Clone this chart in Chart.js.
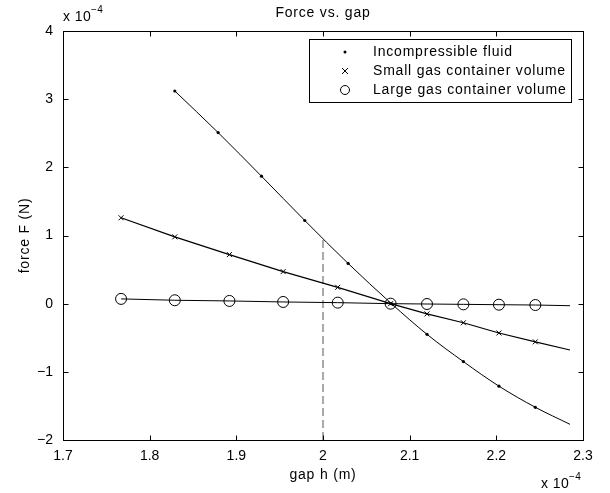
<!DOCTYPE html>
<html>
<head>
<meta charset="utf-8">
<title>Force vs. gap</title>
<script src="https://cdn.jsdelivr.net/npm/chart.js@4.4.1/dist/chart.umd.min.js"></script>
<style>
	html, body { margin: 0; padding: 0; background: #fff; }
	#wrap { width: 610px; height: 493px; }
</style>
</head>
<body>
<div id="wrap"><canvas id="forceChart" width="610" height="493"></canvas></div>
<script>
// gap h in units of 1e-4 m, force F in units of 1e-4 N
const fluidGap = [1.829, 1.879, 1.929, 1.979, 2.029, 2.079, 2.120, 2.162, 2.203, 2.245];
const fluidForce = [3.12, 2.51, 1.87, 1.22, 0.59, 0.00, -0.45, -0.85, -1.21, -1.52];
const gasGap = [1.767, 1.829, 1.892, 1.954, 2.017, 2.078, 2.120, 2.162, 2.203, 2.245];
const smallGasForce = [1.26, 0.98, 0.72, 0.47, 0.24, 0.00, -0.15, -0.28, -0.43, -0.56];
const largeGasForce = [0.07, 0.05, 0.04, 0.025, 0.015, 0.00, -0.005, -0.01, -0.015, -0.02];

// fitted lines run on to the end of the gap range (no marker there)
const lineEndGap = 2.285;
const fluidEndForce = -1.77;
const smallEndForce = -0.68;
const largeEndForce = -0.03;

// dashed marker at h = 2e-4
const markGap = [2.0, 2.0];
const markForce = [-2, 0.96];

const seriesLabels = ['Incompressible fluid', 'Small gas container volume', 'Large gas container volume'];
const xTicks = [1.7, 1.8, 1.9, 2.0, 2.1, 2.2, 2.3];
const yTicks = [-2, -1, 0, 1, 2, 3, 4];

const FONT = '"Liberation Sans", Arial, Helvetica, sans-serif';

document.addEventListener('DOMContentLoaded', function() {
	initForceChart();
});

/**
 * marker points + the line end point
 */
function withEnd(xs, ys, endY) {
	const pts = xs.map(function(x, i) { return { x: x, y: ys[i] }; });
	pts.push({ x: lineEndGap, y: endY });
	return pts;
}

function radii(xs, r) {
	return xs.map(function() { return r; }).concat([0]);
}

function tickText(v) {
	const r = Math.round(v * 10) / 10;
	return (r < 0 ? '\u2212' : '') + Math.abs(r);
}

/**
 * frame, inward ticks, title, axis labels, exponent, legend (MATLAB look)
 */
const matlabDecor = {
	id: 'matlabDecor',
	afterDraw: function(chart) {
		const ctx = chart.ctx;
		const a = chart.chartArea;
		const xs = chart.scales.x;
		const ys = chart.scales.y;
		const L = Math.round(a.left) + 0.5, R = Math.round(a.right) + 0.5;
		const T = Math.round(a.top) + 0.5, B = Math.round(a.bottom) + 0.5;
		const tl = 5;

		ctx.save();
		ctx.strokeStyle = '#000';
		ctx.lineWidth = 1;
		ctx.beginPath();
		xs.ticks.forEach(function(t) {
			const px = Math.round(xs.getPixelForValue(t.value)) + 0.5;
			ctx.moveTo(px, B); ctx.lineTo(px, B - tl);
			ctx.moveTo(px, T); ctx.lineTo(px, T + tl);
		});
		ys.ticks.forEach(function(t) {
			const py = Math.round(ys.getPixelForValue(t.value)) + 0.5;
			ctx.moveTo(L, py); ctx.lineTo(L + tl, py);
			ctx.moveTo(R, py); ctx.lineTo(R - tl, py);
		});
		ctx.stroke();
		ctx.strokeRect(L, T, R - L, B - T);

		ctx.fillStyle = '#000';
		ctx.letterSpacing = '0.8px';
		ctx.textBaseline = 'middle';

		// title
		ctx.font = '14px ' + FONT;
		ctx.textAlign = 'center';
		ctx.fillText('Force vs. gap', (a.left + a.right) / 2, 13);

		// axis labels
		ctx.fillText('gap h (m)', (a.left + a.right) / 2, 475);
		ctx.save();
		ctx.translate(25, (a.top + a.bottom) / 2);
		ctx.rotate(-Math.PI / 2);
		ctx.fillText('force F (N)', 0, 0);
		ctx.restore();

		// exponents
		drawExponent(ctx, a.left, 17.5);
		drawExponent(ctx, 541, 484);

		// legend
		const bx = 309.5, by = 39.5, bw = 262, bh = 63;
		ctx.fillStyle = '#fff';
		ctx.fillRect(bx, by, bw, bh);
		ctx.strokeRect(bx, by, bw, bh);
		const rowY = [52, 71, 90];
		const mx = 345;
		ctx.fillStyle = '#000';
		ctx.textAlign = 'left';
		ctx.font = '14px ' + FONT;
		seriesLabels.forEach(function(label, i) {
			const y = rowY[i];
			ctx.beginPath();
			if (i === 0) {
				ctx.arc(mx, y, 1.5, 0, Math.PI * 2);
				ctx.fill();
			} else if (i === 1) {
				ctx.moveTo(mx - 3, y - 3); ctx.lineTo(mx + 3, y + 3);
				ctx.moveTo(mx - 3, y + 3); ctx.lineTo(mx + 3, y - 3);
				ctx.stroke();
			} else {
				ctx.arc(mx, y, 4.5, 0, Math.PI * 2);
				ctx.stroke();
			}
			ctx.fillText(label, 373, y);
		});
		ctx.restore();
	}
};

function drawExponent(ctx, x, y) {
	ctx.save();
	ctx.textAlign = 'left';
	ctx.font = '14px ' + FONT;
	ctx.letterSpacing = '0.4px';
	ctx.fillText('x 10', x, y);
	const w = ctx.measureText('x 10').width;
	ctx.font = '10px ' + FONT;
	ctx.fillText('\u22124', x + w, y - 7);
	ctx.restore();
}

/**
 * Force vs. gap line chart
 */
function initForceChart() {
	const ctx = document.getElementById('forceChart').getContext('2d');
	new Chart(ctx, {
		type: 'line',
		data: {
			datasets: [{
				label: seriesLabels[0],
				data: withEnd(fluidGap, fluidForce, fluidEndForce),
				borderColor: '#000',
				borderWidth: 1,
				cubicInterpolationMode: 'monotone',
				pointStyle: 'circle',
				pointRadius: radii(fluidGap, 1.6),
				pointBackgroundColor: '#000',
				pointBorderWidth: 0
			}, {
				label: seriesLabels[1],
				data: withEnd(gasGap, smallGasForce, smallEndForce),
				borderColor: '#000',
				borderWidth: 1.2,
				pointStyle: 'crossRot',
				pointRadius: radii(gasGap, 3.5),
				pointBorderColor: '#000',
				pointBorderWidth: 1
			}, {
				label: seriesLabels[2],
				data: withEnd(gasGap, largeGasForce, largeEndForce),
				borderColor: '#000',
				borderWidth: 1,
				pointStyle: 'circle',
				pointRadius: radii(gasGap, 5.5),
				pointBackgroundColor: 'rgba(0,0,0,0)',
				pointBorderColor: '#000',
				pointBorderWidth: 1
			}, {
				label: 'h mark',
				data: markGap.map(function(x, i) { return { x: x, y: markForce[i] }; }),
				borderColor: '#555',
				borderWidth: 1,
				borderDash: [8, 4],
				pointRadius: 0
			}]
		},
		options: {
			responsive: false,
			animation: false,
			events: [],
			layout: { padding: { top: 31, right: 27, bottom: 0, left: 0 } },
			plugins: {
				legend: { display: false },
				tooltip: { enabled: false },
				title: { display: false }
			},
			scales: {
				x: {
					type: 'linear',
					min: xTicks[0],
					max: xTicks[xTicks.length - 1],
					grid: { display: false },
					border: { display: false },
					afterBuildTicks: function(s) { s.ticks = xTicks.map(function(v) { return { value: v }; }); },
					afterFit: function(s) { s.height = 53; },
					ticks: {
						color: '#000',
						padding: 0,
						autoSkip: false,
						maxRotation: 0,
						font: { family: FONT, size: 14 },
						callback: tickText
					}
				},
				y: {
					type: 'linear',
					min: yTicks[0],
					max: yTicks[yTicks.length - 1],
					grid: { display: false },
					border: { display: false },
					afterBuildTicks: function(s) { s.ticks = yTicks.map(function(v) { return { value: v }; }); },
					afterFit: function(s) { s.width = 63; },
					ticks: {
						color: '#000',
						padding: 2,
						font: { family: FONT, size: 14 },
						callback: tickText
					}
				}
			}
		},
		plugins: [matlabDecor]
	});
}
</script>
</body>
</html>
